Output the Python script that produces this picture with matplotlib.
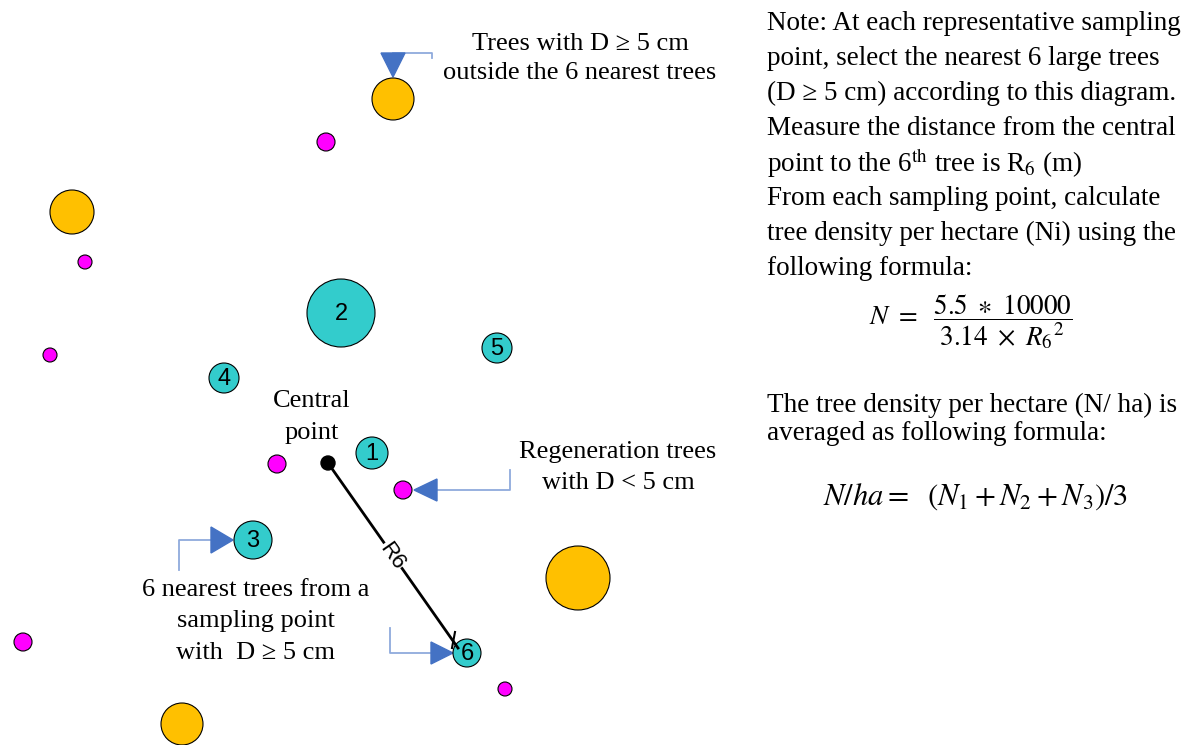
import numpy as np
import matplotlib.pyplot as plt
from matplotlib.patches import Circle, Polygon

plt.rcParams['font.family'] = ['Liberation Serif', 'DejaVu Serif']
plt.rcParams['mathtext.fontset'] = 'stix'

# trees in pixel space (x, y, radius)
big_x = [393, 72, 578, 182]
big_y = [99, 212, 578, 724]
big_r = [21, 22, 32, 21]

regen_x = [326, 85, 50, 277, 403, 23, 505]
regen_y = [142, 262, 355, 464, 490, 642, 689]
regen_r = [9, 7, 7, 9, 9, 9, 7]

near_lab = ['1', '2', '3', '4', '5', '6']
near_x = [372, 341, 253, 224, 497, 467]
near_y = [453, 313, 540, 378, 348, 653]
near_r = [16, 34, 19, 15, 15, 14]

center = (328, 463)
r6_end = (458, 648)

note_lines = [
    'Note: At each representative sampling',
    'point, select the nearest 6 large trees',
    '(D \u2265 5 cm) according to this diagram.',
    'Measure the distance from the central',
    r'point to the 6$^{\rm th}$ tree is R$_6$ (m)',
    'From each sampling point, calculate',
    'tree density per hectare (Ni) using the',
    'following formula:',
]
avg_lines = ['The tree density per hectare (N/ ha) is',
             'averaged as following formula:']

TEAL = '#33CCCC'
GOLD = '#FFC000'
MAG = '#FF00FF'
BLUE = '#4472C4'
LBLUE = '#8FAADC'

fig = plt.figure(figsize=(11.85, 7.45), dpi=100)
ax = fig.add_axes([0, 0, 1, 1])
ax.set_xlim(0, 1185)
ax.set_ylim(745, 0)
ax.axis('off')

for x, y, r in zip(big_x, big_y, big_r):
    ax.add_patch(Circle((x, y), r, fc=GOLD, ec='black', lw=0.8, zorder=3))
for x, y, r in zip(regen_x, regen_y, regen_r):
    ax.add_patch(Circle((x, y), r, fc=MAG, ec='black', lw=0.8, zorder=3))
for lab, x, y, r in zip(near_lab, near_x, near_y, near_r):
    ax.add_patch(Circle((x, y), r, fc=TEAL, ec='black', lw=0.8, zorder=3))
    ax.text(x, y + 1, lab, ha='center', va='center', fontsize=17,
            family='Liberation Sans', zorder=4)

# R6 line
ax.plot([center[0], r6_end[0]], [center[1], r6_end[1]], color='black', lw=2, zorder=5)
ax.plot([455, 452], [632, 648], color='black', lw=1.5, zorder=5)
ax.add_patch(Circle(center, 7, fc='black', ec='black', zorder=6))
ang = -np.degrees(np.arctan2(r6_end[1] - center[1], r6_end[0] - center[0]))
ax.text(392, 556, 'R6', rotation=ang, ha='center', va='center', fontsize=16,
        family='Liberation Sans', rotation_mode='anchor', zorder=6,
        bbox=dict(fc='white', ec='none', pad=0.3))


def elbow(pts, tip, base, half, horiz=True):
    xs, ys = zip(*pts)
    ax.plot(xs, ys, color=LBLUE, lw=1.3, zorder=2)
    if horiz:
        tri = [(tip[0], tip[1]), (base, tip[1] - half), (base, tip[1] + half)]
    else:
        tri = [(tip[0], tip[1]), (tip[0] - half, base), (tip[0] + half, base)]
    ax.add_patch(Polygon(tri, closed=True, fc=BLUE, ec=BLUE, zorder=2))


elbow([(432, 58), (432, 53), (393, 53)], (393, 77), 53, 12, horiz=False)
elbow([(510, 470), (510, 490), (437, 490)], (414, 490), 437, 11)
elbow([(179, 570), (179, 540), (211, 540)], (233, 540), 211, 13)
elbow([(390, 628), (390, 653), (431, 653)], (453, 653), 431, 11)

fs = 19
ax.text(580, 44, 'Trees with D \u2265 5 cm', ha='center', va='center', fontsize=fs)
ax.text(580, 73, 'outside the 6 nearest trees', ha='center', va='center', fontsize=fs)
ax.text(312, 401, 'Central', ha='center', va='center', fontsize=fs)
ax.text(312, 433, 'point', ha='center', va='center', fontsize=fs)
ax.text(618, 452, 'Regeneration trees', ha='center', va='center', fontsize=fs)
ax.text(618, 483, 'with D < 5 cm', ha='center', va='center', fontsize=fs)
for i, s in enumerate(['6 nearest trees from a', 'sampling point', 'with  D \u2265 5 cm']):
    ax.text(256, 590 + i * 31.5, s, ha='center', va='center', fontsize=fs)

for i, s in enumerate(note_lines):
    ax.text(767, 24 + i * 34.9, s, ha='left', va='center', fontsize=19.5)
for i, s in enumerate(avg_lines):
    ax.text(767, 405 + i * 29, s, ha='left', va='center', fontsize=19.5)

ax.text(971, 322, r'$N\ =\ \ \dfrac{5.5\ \ast\ 10000}{3.14\ \times\ {R_6}^{2}}$',
        ha='center', va='center', fontsize=19.5)
ax.text(975, 497, r'$N/ha=\ \ (N_1+N_2+N_3)/3$', ha='center', va='center', fontsize=22)

fig.savefig('out.png', dpi=100)
